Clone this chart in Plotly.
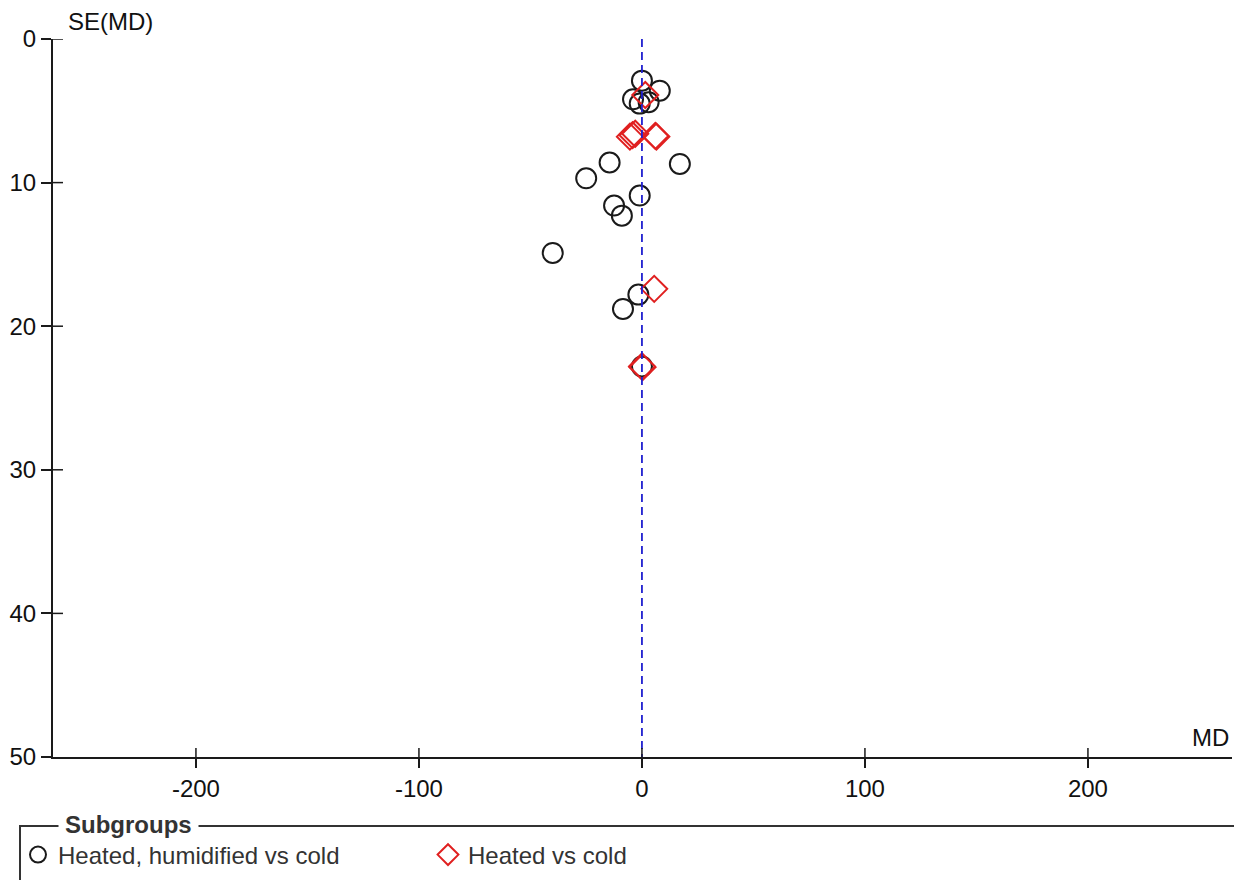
import plotly.graph_objects as go

# Study estimates: mean difference (MD) and its standard error, by subgroup
md_heated_humidified = [0.0, 8.0, -4.0, -1.0, 3.0, -14.5, -25.0, 17.0, -1.0, -12.5, -9.0, -40.0, -1.6, -8.5, 0.0]
se_heated_humidified = [2.9, 3.6, 4.2, 4.5, 4.4, 8.6, 9.7, 8.7, 10.9, 11.6, 12.3, 14.9, 17.8, 18.8, 22.8]

md_heated = [1.5, -3.0, -4.2, -5.4, 6.0, 6.5, 5.5, 0.0, 0.3]
se_heated = [3.9, 6.6, 6.7, 6.8, 6.75, 6.8, 17.4, 22.8, 22.85]

pooled_md = 0.0
se_limits = [0, 50]

x_ticks = [-200, -100, 0, 100, 200]
x_tick_labels = ["-200", "-100", "0", "100", "200"]
y_ticks = [0, 10, 20, 30, 40, 50]
y_tick_labels = ["0", "10", "20", "30", "40", "50"]
x_range = [-264.1, 264.6]

W, H = 1234, 880
L, R, T, B = 53, 2, 39, 123
PW, PH = W - L - R, H - T - B

FONT = "Liberation Sans, Arial, sans-serif"
AX = "#1a1a1a"


def px_x(p):
    return (p - L) / PW


def px_y(p):
    return (H - B - p) / PH


fig = go.Figure()

fig.add_trace(go.Scatter(
    x=md_heated_humidified, y=se_heated_humidified, mode="markers",
    name="Heated, humidified vs cold",
    marker=dict(symbol="circle-open", size=20, color="#1a1a1a", line=dict(width=2, color="#1a1a1a")),
    hoverinfo="x+y",
))
fig.add_trace(go.Scatter(
    x=md_heated, y=se_heated, mode="markers",
    name="Heated vs cold",
    marker=dict(symbol="diamond-open", size=20, color="#e02020", line=dict(width=2, color="#e02020")),
    hoverinfo="x+y",
))
# pooled estimate line
fig.add_trace(go.Scatter(
    x=[pooled_md, pooled_md], y=se_limits, mode="lines", showlegend=False,
    line=dict(color="#2020d0", width=1.8, dash="8px,5px"), hoverinfo="skip",
))

shapes = []
# tick marks crossing the axis lines
for t in x_ticks:
    shapes.append(dict(type="line", xref="x", yref="y", x0=t, x1=t,
                       ysizemode="pixel", yanchor=se_limits[1], y0=-9, y1=9,
                       line=dict(color=AX, width=1.5)))
for t in y_ticks[:-1]:
    shapes.append(dict(type="line", xref="x", yref="y", y0=t, y1=t,
                       xsizemode="pixel", xanchor=x_range[0], x0=-10, x1=10,
                       line=dict(color=AX, width=1.5)))
# legend frame
shapes.append(dict(type="rect", xref="paper", yref="paper",
                   x0=px_x(20), x1=px_x(1260), y0=px_y(826), y1=px_y(920),
                   line=dict(color="#333", width=2), fillcolor="rgba(0,0,0,0)"))

annotations = [
    dict(text="SE(MD)", xref="paper", yref="paper", x=px_x(66), y=px_y(22),
         xanchor="left", yanchor="middle", showarrow=False,
         font=dict(family=FONT, size=24, color="#111")),
    dict(text="MD", xref="paper", yref="paper", x=px_x(1231), y=px_y(737),
         xanchor="right", yanchor="middle", showarrow=False,
         font=dict(family=FONT, size=24, color="#111")),
    dict(text="<b>Subgroups</b>", xref="paper", yref="paper", x=px_x(58), y=px_y(824),
         xanchor="left", yanchor="middle", showarrow=False, bgcolor="white", borderpad=6,
         font=dict(family=FONT, size=24, color="#333")),
]

fig.update_layout(
    width=W, height=H,
    margin=dict(l=L, r=R, t=T, b=B, pad=0),
    paper_bgcolor="white", plot_bgcolor="white",
    font=dict(family=FONT, size=24, color="#111"),
    xaxis=dict(range=x_range, tickvals=x_ticks, ticktext=x_tick_labels, ticks="outside",
               ticklen=9, tickwidth=1.5, tickcolor=AX, showline=True, linecolor=AX, linewidth=2,
               showgrid=False, zeroline=False, fixedrange=True),
    yaxis=dict(range=[se_limits[1], se_limits[0]], tickvals=y_ticks, ticktext=y_tick_labels,
               ticks="outside", ticklen=10, tickwidth=1.5, tickcolor=AX, showline=True,
               linecolor=AX, linewidth=2, showgrid=False, zeroline=False, fixedrange=True),
    shapes=shapes,
    annotations=annotations,
    showlegend=True,
    legend=dict(orientation="h", x=px_x(18), y=px_y(855), xanchor="left", yanchor="middle",
                bgcolor="rgba(0,0,0,0)", font=dict(family=FONT, size=24, color="#333"),
                entrywidth=365, entrywidthmode="pixels", itemsizing="trace"),
)

fig.write_html("out.html")
